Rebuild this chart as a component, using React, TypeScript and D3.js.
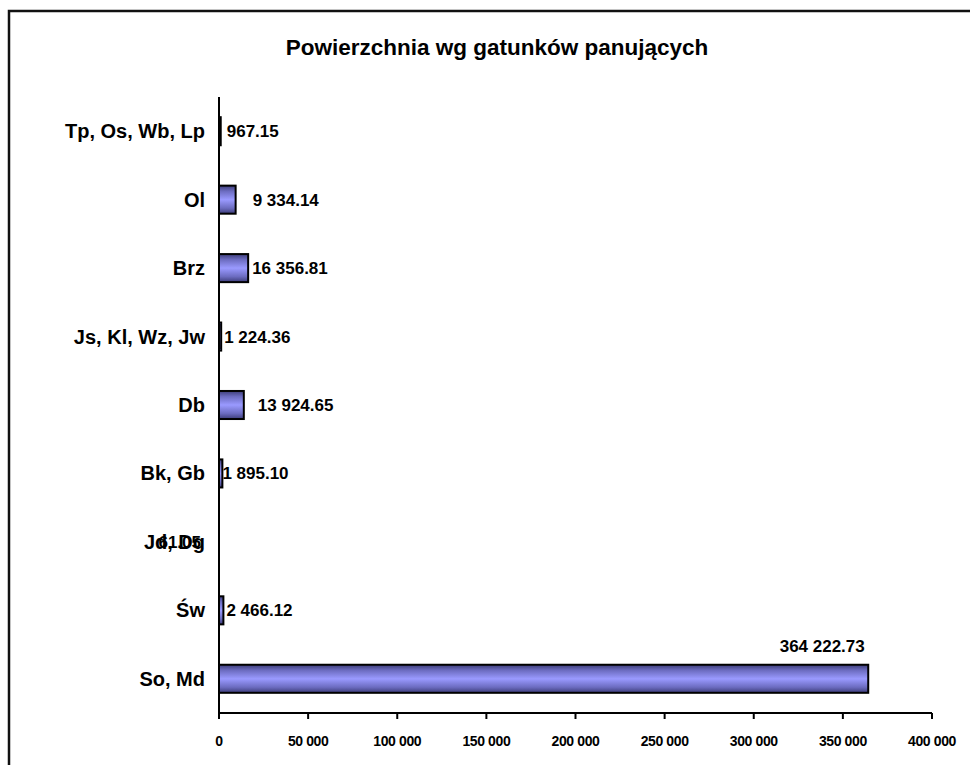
import React from "react";
import * as d3 from "d3";

const categories = ["Tp, Os, Wb, Lp", "Ol", "Brz", "Js, Kl, Wz, Jw", "Db", "Bk, Gb", "Jd, Dg", "Św", "So, Md"];
const values = [967.15, 9334.14, 16356.81, 1224.36, 13924.65, 1895.1, 61.05, 2466.12, 364222.73];
const valueLabels = ["967.15", "9 334.14", "16 356.81", "1 224.36", "13 924.65", "1 895.10", "61.05", "2 466.12", "364 222.73"];
const xTicks = [0, 50000, 100000, 150000, 200000, 250000, 300000, 350000, 400000];
const title = "Powierzchnia wg gatunków panujących";

// label placement tweaks (layout only)
const labelMode: Record<string, string> = { "Jd, Dg": "left", "So, Md": "above" };
const labelDx: Record<string, number> = { "Tp, Os, Wb, Lp": 6, "Ol": 17, "Brz": 4, "Js, Kl, Wz, Jw": 3, "Db": 14, "Bk, Gb": 0, "Św": 3 };

const W = 970, H = 765;
const left = 219, right = 932, top = 97, bottom = 713;
const font = "'Liberation Sans', Arial, sans-serif";

export default function App() {
  const x = d3.scaleLinear().domain([0, 400000]).range([left, right]);
  const y = d3.scaleBand<string>().domain(categories).range([top, bottom]).paddingInner(0.59).paddingOuter(0.295);
  const fmt = (v: number) => d3.format(",")(v).replace(/,/g, " ");
  return (
    <svg width={W} height={H} style={{ position: "absolute", left: 0, top: 0, background: "#fff" }}>
      <defs>
        <linearGradient id="barGrad" x1="0" y1="0" x2="0" y2="1">
          <stop offset="0" stopColor="#3c3c78" />
          <stop offset="0.2" stopColor="#6c6cc0" />
          <stop offset="0.5" stopColor="#9a9aff" />
          <stop offset="0.8" stopColor="#6c6cc0" />
          <stop offset="1" stopColor="#3c3c78" />
        </linearGradient>
      </defs>
      <rect x={0} y={0} width={W} height={H} fill="#fff" />
      <path d={`M9,${H} V11 H${W}`} fill="none" stroke="#111" strokeWidth={2.5} />
      <text x={497} y={55} textAnchor="middle" fontFamily={font} fontWeight="bold" fontSize={22.5}>{title}</text>
      {categories.map((c, i) => {
        const by = y(c)!;
        const bw = x(values[i]) - x(0);
        const cy = by + y.bandwidth() / 2;
        const mode = labelMode[c];
        let lx = x(values[i]) + (labelDx[c] ?? 4), ly = cy + 6, anchor = "start";
        if (mode === "left") { lx = 201; anchor = "end"; }
        if (mode === "above") { lx = x(values[i]) - 46; ly = by - 13; anchor = "middle"; }
        return (
          <g key={c}>
            {bw > 0.5 && (
              <rect x={x(0)} y={by} width={bw} height={y.bandwidth()} fill="url(#barGrad)" stroke="#000" strokeWidth={2} />
            )}
            <text x={205} y={cy + 7} textAnchor="end" fontFamily={font} fontWeight="bold" fontSize={20}>{c}</text>
            <text x={lx} y={ly} textAnchor={anchor} fontFamily={font} fontWeight="bold" fontSize={17}>{valueLabels[i]}</text>
          </g>
        );
      })}
      <line x1={left} x2={left} y1={top} y2={bottom} stroke="#000" strokeWidth={2} />
      <line x1={left} x2={right} y1={bottom} y2={bottom} stroke="#000" strokeWidth={2} />
      {xTicks.map(t => (
        <g key={t}>
          <line x1={x(t)} x2={x(t)} y1={bottom} y2={bottom + 6} stroke="#000" strokeWidth={2} />
          <text x={x(t)} y={746} textAnchor="middle" fontFamily={font} fontWeight="bold" fontSize={14} letterSpacing={-0.4}>{fmt(t)}</text>
        </g>
      ))}
    </svg>
  );
}
